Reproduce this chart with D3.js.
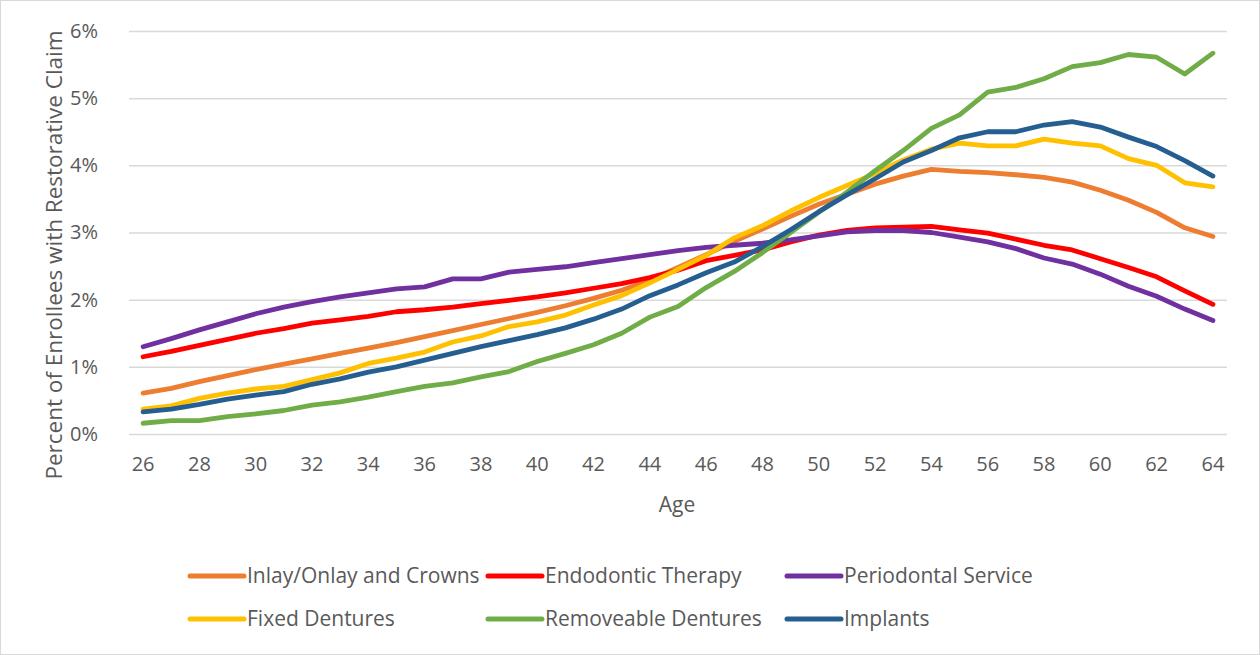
<!DOCTYPE html>
<html>
<head>
<meta charset="utf-8">
<script src="https://cdn.jsdelivr.net/npm/d3@7"></script>
<style>
  html, body { margin: 0; padding: 0; background: #fff; }
  svg { display: block; }
</style>
</head>
<body>
<svg id="chart" width="1260" height="655"></svg>
<script>
// Age categories on the horizontal axis
const ages = d3.range(26, 65);
const xTickLabels = ages.filter(a => a % 2 === 0);
const yTickValues = [0, 1, 2, 3, 4, 5, 6];

// Percent of enrollees with a restorative claim, by age
const inlayOnlayCrowns = [0.61, 0.68, 0.78, 0.87, 0.96, 1.04, 1.12, 1.20, 1.28, 1.36, 1.45, 1.54, 1.63, 1.72, 1.81, 1.91, 2.02, 2.14, 2.29, 2.48, 2.67, 2.87, 3.05, 3.24, 3.42, 3.57, 3.72, 3.84, 3.94, 3.91, 3.89, 3.86, 3.82, 3.75, 3.63, 3.48, 3.30, 3.07, 2.94];
const endodonticTherapy = [1.15, 1.23, 1.32, 1.41, 1.50, 1.57, 1.65, 1.70, 1.75, 1.82, 1.85, 1.89, 1.94, 1.99, 2.04, 2.10, 2.17, 2.24, 2.33, 2.44, 2.58, 2.66, 2.74, 2.86, 2.96, 3.03, 3.07, 3.08, 3.09, 3.04, 2.99, 2.90, 2.81, 2.74, 2.61, 2.48, 2.34, 2.13, 1.93];
const periodontalService = [1.30, 1.42, 1.55, 1.67, 1.79, 1.89, 1.97, 2.04, 2.10, 2.16, 2.19, 2.31, 2.31, 2.41, 2.45, 2.49, 2.55, 2.61, 2.67, 2.73, 2.78, 2.81, 2.84, 2.89, 2.95, 3.01, 3.03, 3.03, 3.00, 2.93, 2.86, 2.76, 2.62, 2.53, 2.38, 2.20, 2.05, 1.86, 1.69];
const fixedDentures = [0.37, 0.42, 0.53, 0.61, 0.67, 0.71, 0.81, 0.91, 1.05, 1.13, 1.22, 1.37, 1.46, 1.60, 1.67, 1.77, 1.92, 2.06, 2.25, 2.45, 2.66, 2.92, 3.10, 3.32, 3.52, 3.70, 3.88, 4.08, 4.24, 4.33, 4.29, 4.29, 4.39, 4.33, 4.29, 4.10, 4.00, 3.74, 3.68];
const removeableDentures = [0.16, 0.20, 0.20, 0.26, 0.30, 0.35, 0.43, 0.48, 0.55, 0.63, 0.71, 0.76, 0.85, 0.93, 1.08, 1.20, 1.33, 1.50, 1.74, 1.90, 2.18, 2.42, 2.70, 3.00, 3.30, 3.60, 3.92, 4.22, 4.55, 4.75, 5.09, 5.16, 5.29, 5.47, 5.53, 5.65, 5.61, 5.36, 5.67];
const implants = [0.33, 0.37, 0.44, 0.52, 0.58, 0.63, 0.74, 0.82, 0.92, 1.00, 1.10, 1.20, 1.30, 1.39, 1.48, 1.58, 1.71, 1.86, 2.06, 2.22, 2.40, 2.56, 2.79, 3.04, 3.31, 3.56, 3.80, 4.05, 4.22, 4.41, 4.50, 4.50, 4.60, 4.65, 4.57, 4.42, 4.28, 4.07, 3.84];

const seriesNames = ["Inlay/Onlay and Crowns", "Endodontic Therapy", "Periodontal Service", "Fixed Dentures", "Removeable Dentures", "Implants"];
const seriesValues = [inlayOnlayCrowns, endodonticTherapy, periodontalService, fixedDentures, removeableDentures, implants];
const seriesColors = ["#ED7D31", "#FF0000", "#7030A0", "#FFC000", "#70AD47", "#255E91"];

const series = seriesNames.map((name, i) => ({ name, color: seriesColors[i], values: seriesValues[i] }));

const svg = d3.select("#chart");
const W = 1260, H = 655;
const plot = { left: 129, right: 1227, top: 31, bottom: 434 };
const textColor = "#595959";
const font = "'Open Sans', 'Noto Sans', sans-serif";

// Outer chart frame
svg.append("rect")
  .attr("x", 0.5).attr("y", 0.5)
  .attr("width", W - 1).attr("height", H - 1)
  .attr("fill", "#fff").attr("stroke", "#d9d9d9");

const x = d3.scaleBand().domain(ages).range([plot.left, plot.right]).paddingInner(0).paddingOuter(0);
const cx = a => x(a) + x.bandwidth() / 2;
const y = d3.scaleLinear().domain([0, 6]).range([plot.bottom, plot.top]);

// Horizontal gridlines and percent labels
const yAxis = d3.axisLeft(y)
  .tickValues(yTickValues)
  .tickSize(-(plot.right - plot.left))
  .tickPadding(31)
  .tickFormat(d => d + "%");
const gy = svg.append("g").attr("transform", `translate(${plot.left},0)`).call(yAxis);
gy.select(".domain").remove();
gy.selectAll(".tick line").attr("stroke", "#d9d9d9").attr("stroke-width", 1.5);
gy.selectAll(".tick text")
  .attr("fill", textColor)
  .attr("font-family", font)
  .attr("font-size", 20);

// Age labels along the bottom
const xAxis = d3.axisBottom(x)
  .tickValues(xTickLabels)
  .tickSize(0)
  .tickPadding(23);
const gx = svg.append("g").attr("transform", `translate(0,${plot.bottom})`).call(xAxis);
gx.select(".domain").remove();
gx.selectAll(".tick text")
  .attr("fill", textColor)
  .attr("font-family", font)
  .attr("font-size", 20);

// Axis titles
svg.append("text")
  .attr("x", (plot.left + plot.right) / 2 - 1)
  .attr("y", 512)
  .attr("text-anchor", "middle")
  .attr("fill", textColor)
  .attr("font-family", font)
  .attr("font-size", 21)
  .text("Age");

svg.append("text")
  .attr("transform", `translate(62,255) rotate(-90)`)
  .attr("text-anchor", "middle")
  .attr("fill", textColor)
  .attr("font-family", font)
  .attr("font-size", 22.5)
  .text("Percent of Enrollees with Restorative Claim");

// Series lines
const line = d3.line()
  .x((d, i) => cx(ages[i]))
  .y(d => y(d));

svg.append("g").selectAll("path")
  .data(series)
  .join("path")
  .attr("d", s => line(s.values))
  .attr("fill", "none")
  .attr("stroke", s => s.color)
  .attr("stroke-width", 4.8)
  .attr("stroke-linejoin", "round")
  .attr("stroke-linecap", "round");

// Legend in two rows of three
const legendCols = [188, 486, 785];
const legendRows = [576, 619];
const legend = svg.append("g").selectAll("g")
  .data(series)
  .join("g")
  .attr("transform", (s, i) => `translate(${legendCols[i % 3]},${legendRows[Math.floor(i / 3)]})`);
legend.append("line")
  .attr("x1", 2).attr("x2", 56)
  .attr("y1", 0).attr("y2", 0)
  .attr("stroke", s => s.color)
  .attr("stroke-width", 5)
  .attr("stroke-linecap", "round");
legend.append("text")
  .attr("x", 59)
  .attr("y", 0)
  .attr("dy", "0.35em")
  .attr("fill", textColor)
  .attr("font-family", font)
  .attr("font-size", 21)
  .text(s => s.name);
</script>
</body>
</html>
